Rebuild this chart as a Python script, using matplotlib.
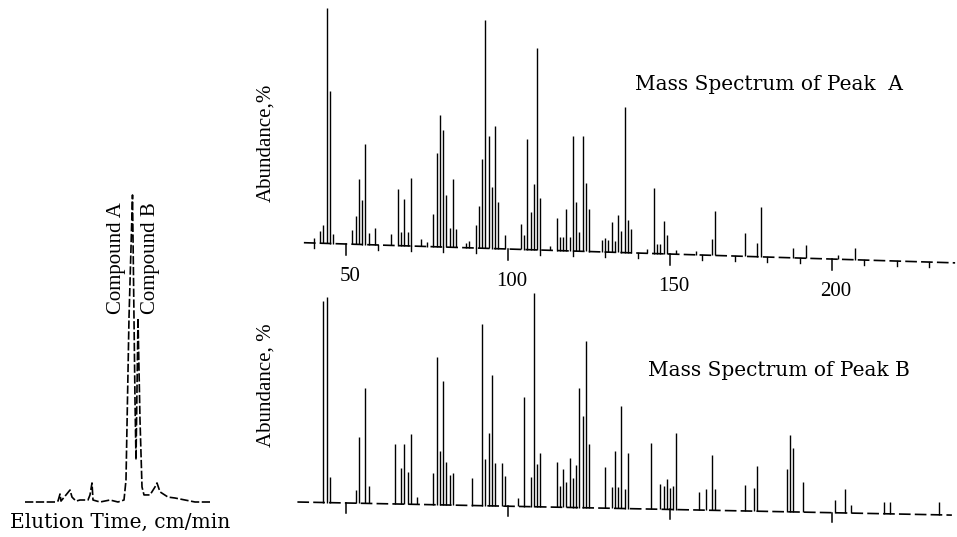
import numpy as np
import matplotlib
matplotlib.use("Agg")
from matplotlib import pyplot as plt

plt.rcParams['font.family'] = ['Liberation Serif', 'DejaVu Serif']

# chromatogram (arbitrary elution time units, signal in % of peak A)
chrom_time = [0, 6, 6.6, 7, 7.2, 9, 9.4, 10.2, 11, 12.6, 13, 13.4, 13.6, 15, 17, 18.6,
              19.8, 20.2, 20.8, 21.5, 22, 22.2, 22.6, 23.0, 23.4, 23.8, 25, 26, 26.4,
              27, 28.6, 30, 32, 34, 37]
chrom_signal = [0, 0, 0.3, 2.6, 0.3, 3.9, 1.6, 0.3, 0.65, 0.65, 2.3, 6.2, 0.65, 0, 0.65, 0,
                0.65, 7.2, 60, 100, 33, 13.7, 59.9, 26.7, 4.9, 2.3, 2.3, 4.9, 6.2,
                3.3, 1.6, 1.3, 0.65, 0, 0]

# mass spectrum of peak A (m/z, relative abundance %)
mz_a = [40, 42, 43, 44, 45, 46, 52, 53, 54, 55, 56, 57, 59, 64, 66, 67, 68, 69, 70, 73, 75,
        77, 78, 79, 80, 81, 82, 83, 84, 87, 88, 90, 91, 92, 93, 94, 95, 96, 97, 99,
        104, 105, 106, 107, 108, 109, 110, 113, 115, 116, 117, 118, 119, 120, 121, 122,
        123, 124, 125, 129, 130, 131, 132, 133, 134, 135, 136, 137, 138, 143, 145, 146,
        147, 148, 149, 152, 158, 163, 164, 173, 177, 178, 188, 192, 202, 207]
ab_a = [2, 5, 8, 100, 65, 4, 6, 12, 28, 19, 43, 5, 7, 5, 24, 6, 20, 6, 29, 3, 2,
        14, 40, 56, 50, 22, 8, 29, 8, 2, 3, 10, 18, 38, 97, 48, 26, 52, 20, 6,
        11, 6, 47, 16, 28, 86, 22, 2, 14, 6, 6, 18, 6, 49, 21, 8,
        49, 29, 18, 5, 6, 5, 13, 5, 16, 9, 62, 14, 10, 2, 28, 4,
        4, 14, 8, 2, 1.5, 7, 19, 10, 6, 21, 4, 5.5, 2, 5]

# mass spectrum of peak B
mz_b = [43, 44, 45, 53, 54, 56, 57, 65, 67, 68, 69, 70, 72, 77, 78, 79, 80, 81, 82, 83,
        89, 92, 93, 94, 95, 96, 98, 99, 103, 105, 107, 108, 109, 110, 115, 116, 117,
        118, 119, 120, 121, 122, 123, 124, 125, 130, 132, 133, 134, 135, 136, 137,
        144, 147, 148, 149, 150, 151, 152, 159, 161, 163, 164, 173, 176, 177, 186,
        187, 188, 191, 201, 204, 206, 216, 218, 233]
ab_b = [94, 96, 12, 6, 31, 54, 8, 28, 17, 28, 15, 33, 3.5, 15, 69, 25, 58, 20, 14, 15,
        13, 85, 22, 34, 61, 20, 20, 14, 4, 51, 14, 100, 20, 25, 21, 10, 18,
        12, 23, 14, 20, 56, 43, 78, 30, 19, 10, 27, 10, 48, 9, 26,
        31, 12, 11, 14, 10, 11, 36, 8.5, 10, 26, 10, 12, 11, 21, 20,
        36, 30, 14, 6, 11, 4, 5.5, 5.5, 6]

tick_mz = [50, 100, 150, 200]
tick_labels = ['50', '100', '150', '200']
minor_mz = [40, 60, 70, 80, 90, 110, 120, 130, 140, 160, 170, 180, 190, 210, 220, 230]

W, H = 957, 537
fig = plt.figure(figsize=(W / 100, H / 100), dpi=100)


def px_axes(left, top, right, bottom):
    ax = fig.add_axes([left / W, 1 - bottom / H, (right - left) / W, (bottom - top) / H])
    ax.set_axis_off()
    return ax


def px_text(x, y, s, **kw):
    kw.setdefault('fontsize', 15)
    fig.text(x / W, 1 - y / H, s, **kw)


# m/z to pixel: x = 346 + (m - 50) * 3.24
mz_lo = 50 + (290 - 346) / 3.24
mz_hi = 50 + (957 - 346) / 3.24


def spectrum(ax, mz, ab, tilt, m0, m_start, m_end, minor=True, labels=True):
    mz = np.array(mz, dtype=float)
    ab = np.array(ab, dtype=float)
    base = -tilt * (mz - m0)
    ax.vlines(mz, base, base + ab, color='black', lw=1.0)
    ax.plot([m_start, m_end], [-tilt * (m_start - m0), -tilt * (m_end - m0)],
            color='black', lw=1.2, linestyle=(0, (7, 2.5)))
    for m in tick_mz:
        b = -tilt * (m - m0)
        ax.plot([m, m], [b, b - 4.5], color='black', lw=1.1)
    if minor:
        for m in minor_mz:
            b = -tilt * (m - m0)
            ax.plot([m, m], [b, b - 2.2], color='black', lw=1.0)
    if labels:
        for m, s in zip(tick_mz, tick_labels):
            ax.text(m + 1.2, -tilt * (m - m0) - 14, s, ha='center', va='center', fontsize=15)


# spectrum A
ax_a = px_axes(290, 0, 957, 300)
ax_a.set_xlim(mz_lo, mz_hi)
ax_a.set_ylim(-(300 - 243) / 2.35, 243 / 2.35)
spectrum(ax_a, mz_a, ab_a, 0.0427, 40, 37, 238)

# spectrum B
ax_b = px_axes(290, 290, 957, 537)
ax_b.set_xlim(mz_lo, mz_hi)
ax_b.set_ylim(-(537 - 502) / 2.14, (502 - 290) / 2.14)
spectrum(ax_b, mz_b, ab_b, 0.0303, 35, 35, 237, minor=False, labels=False)

# chromatogram
ax_c = px_axes(0, 180, 240, 537)
ax_c.set_xlim(-5, 43)
ax_c.set_ylim(-(537 - 502) / 3.07, (502 - 180) / 3.07)
ax_c.plot(chrom_time, chrom_signal, color='black', lw=1.2, linestyle=(0, (5, 1.5)))

wide = ['DejaVu Serif']
px_text(117, 258, 'Compound A', rotation=90, ha='center', va='center')
px_text(150, 258, 'Compound B', rotation=90, ha='center', va='center')
px_text(120, 522, 'Elution Time, cm/min', ha='center', va='center', family=wide, fontsize=14.5)
px_text(266, 143, 'Abundance,%', rotation=90, ha='center', va='center')
px_text(266, 385, 'Abundance, %', rotation=90, ha='center', va='center')
px_text(635, 84, 'Mass Spectrum of Peak  A', ha='left', va='center', family=wide, fontsize=14.5)
px_text(648, 370, 'Mass Spectrum of Peak B', ha='left', va='center', family=wide, fontsize=14.5)

fig.savefig('out.png', dpi=100, facecolor='white')
